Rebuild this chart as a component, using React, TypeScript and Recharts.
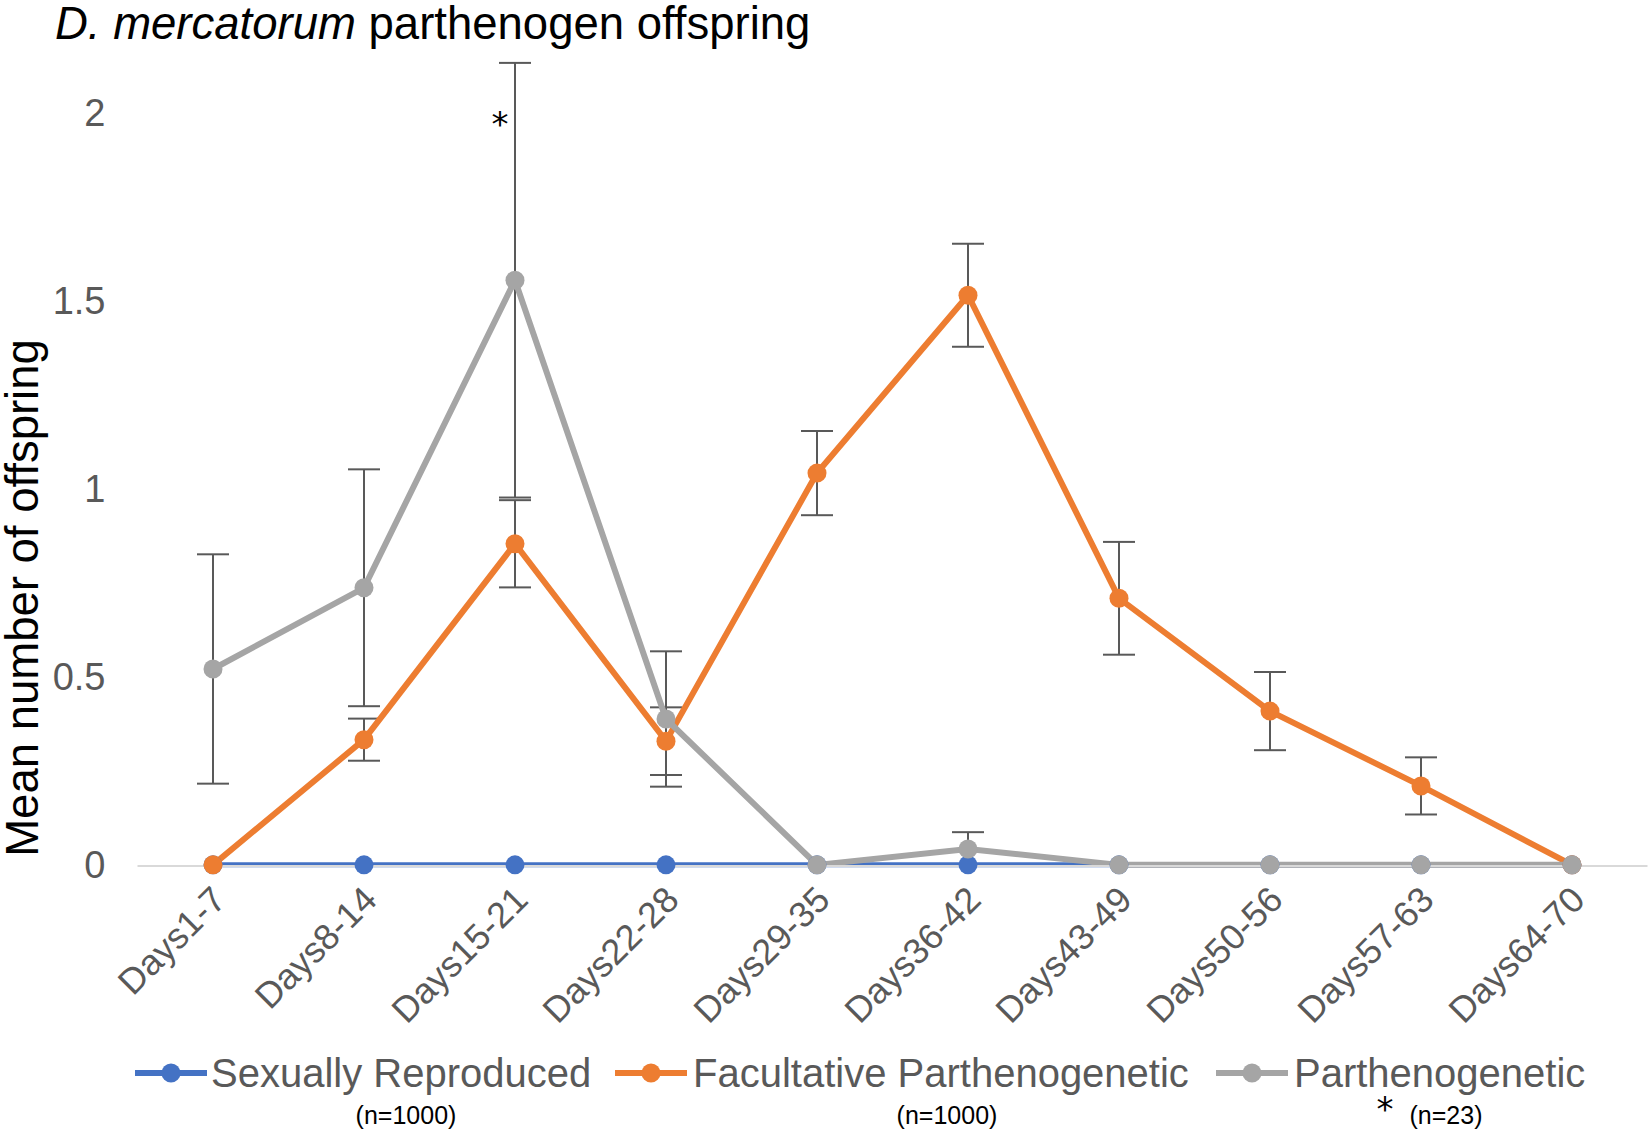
import React from 'react';
import { LineChart, Line, XAxis, YAxis, ErrorBar, ReferenceDot, Label } from 'recharts';

const categories = ['Days1-7', 'Days8-14', 'Days15-21', 'Days22-28', 'Days29-35', 'Days36-42', 'Days43-49', 'Days50-56', 'Days57-63', 'Days64-70'];
const sexual = [0, 0, 0, 0, 0, 0, 0, 0, 0, 0];
const facultative = [0, 0.333, 0.854, 0.329, 1.042, 1.515, 0.709, 0.409, 0.21, 0];
const facultativeErr = [null, 0.056, 0.116, 0.09, 0.112, 0.137, 0.15, 0.104, 0.076, null];
const parth = [0.521, 0.737, 1.555, 0.388, 0, 0.042, 0, 0, 0, 0];
const parthErr = [0.305, 0.315, 0.578, 0.18, null, 0.045, null, null, null, null];
const yTicks = [0, 0.5, 1, 1.5, 2];
const legendItems = [
  { name: 'Sexually Reproduced', color: '#4472C4', n: '(n=1000)' },
  { name: 'Facultative Parthenogenetic', color: '#ED7D31', n: '(n=1000)' },
  { name: 'Parthenogenetic', color: '#A5A5A5', n: '(n=23)' },
];

const data = categories.map((c, i) => ({
  cat: c,
  sexual: sexual[i],
  fac: facultative[i],
  facErr: facultativeErr[i],
  par: parth[i],
  parErr: parthErr[i],
}));

const FONT = '"Liberation Sans", Arial, Helvetica, sans-serif';
const W = 1652;
const H = 1133;

const XTick = (props: any) => {
  const { x, y, payload } = props;
  return (
    <g transform={`translate(${x + 6},${y + 27})`}>
      <text transform="rotate(-45)" textAnchor="end" fontSize={36} fill="#595959" fontFamily={FONT} dy="0.35em">
        {payload.value}
      </text>
    </g>
  );
};

const Star = (props: any) => {
  const { cx, cy } = props;
  return (
    <text x={cx - 15} y={cy + 4 + 19} textAnchor="middle" fontSize={34} fontFamily='"DejaVu Sans", sans-serif' fill="#000">
      *
    </text>
  );
};

const legendPos = [
  { markerX: 135, textX: 211, nX: 406 },
  { markerX: 615, textX: 693, nX: 947 },
  { markerX: 1216, textX: 1294, nX: 1446 },
];

export default function App() {
  return (
    <div style={{ position: 'absolute', left: 0, top: 0, width: W, height: H, background: '#fff', fontFamily: FONT }}>
      <LineChart width={W} height={H} data={data} margin={{ top: 37.7, right: 4.5, left: 0, bottom: 117 }}>
        <XAxis
          dataKey="cat"
          height={150}
          tick={<XTick />}
          tickLine={false}
          tickSize={0}
          tickMargin={0}
          interval={0}
          padding={{ left: 75.5, right: 75.5 }}
          axisLine={{ stroke: '#D9D9D9', strokeWidth: 2 }}
        />
        <YAxis
          width={137.5}
          domain={[0, 2.2]}
          ticks={yTicks}
          axisLine={false}
          tickLine={false}
          tickSize={0}
          tickMargin={32}
          tick={{ fontSize: 38, fill: '#595959', fontFamily: FONT }}
        >
          <Label
            content={() => (
              <text x={38} y={598} transform="rotate(-90 38 598)" textAnchor="middle" fontSize={45.5} fill="#000" fontFamily={FONT}>
                Mean number of offspring
              </text>
            )}
          />
        </YAxis>
        <Line
          dataKey="sexual"
          stroke="#4472C4"
          strokeWidth={5}
          dot={{ r: 9.5, fill: '#4472C4', stroke: '#4472C4', strokeWidth: 0 }}
          isAnimationActive={false}
        />
        <Line
          dataKey="fac"
          stroke="#ED7D31"
          strokeWidth={6}
          dot={{ r: 9.5, fill: '#ED7D31', stroke: '#ED7D31', strokeWidth: 0 }}
          isAnimationActive={false}
        >
          <ErrorBar dataKey="facErr" width={16} stroke="#595959" strokeWidth={2} />
        </Line>
        <Line
          dataKey="par"
          stroke="#A5A5A5"
          strokeWidth={6}
          dot={{ r: 9.5, fill: '#A5A5A5', stroke: '#A5A5A5', strokeWidth: 0 }}
          isAnimationActive={false}
        >
          <ErrorBar dataKey="parErr" width={16} stroke="#595959" strokeWidth={2} />
        </Line>
        <ReferenceDot x="Days15-21" y={2} r={0} shape={<Star />} />
      </LineChart>

      <div style={{ position: 'absolute', left: 55, top: 0, fontSize: 45.5, lineHeight: '46px', color: '#000', whiteSpace: 'nowrap', fontFamily: FONT }}>
        <span style={{ position: 'absolute', top: 1, whiteSpace: 'nowrap' }}>
          <i>D. mercatorum</i> parthenogen offspring
        </span>
      </div>

      <svg width={W} height={H} style={{ position: 'absolute', left: 0, top: 0, pointerEvents: 'none' }}>
        {legendItems.map((it, i) => {
          const p = legendPos[i];
          const cy = 1073;
          return (
            <g key={it.name}>
              <line x1={p.markerX} x2={p.markerX + 72} y1={cy} y2={cy} stroke={it.color} strokeWidth={6} />
              <circle cx={p.markerX + 36} cy={cy} r={9.5} fill={it.color} />
              <text x={p.textX} y={cy} dy="0.35em" fontSize={40} fill="#595959" fontFamily={FONT}>
                {it.name}
              </text>
              <text x={p.nX} y={1115} dy="0.35em" textAnchor="middle" fontSize={25} fill="#000" fontFamily={FONT}>
                {it.n}
              </text>
            </g>
          );
        })}
        <text x={1385} y={1102 + 19} textAnchor="middle" fontSize={34} fontFamily='"DejaVu Sans", sans-serif' fill="#000">
          *
        </text>
      </svg>
    </div>
  );
}
